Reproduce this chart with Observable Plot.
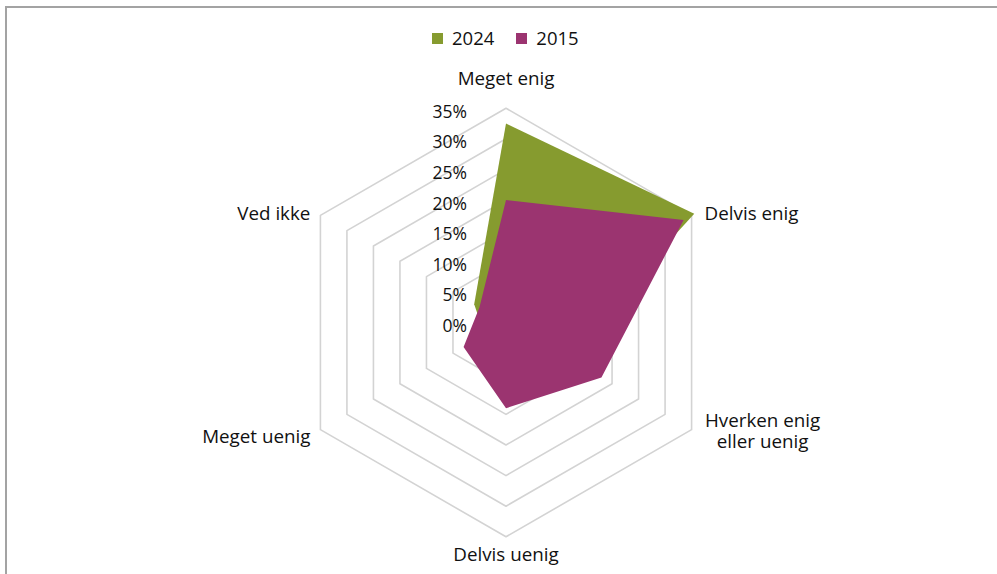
<!DOCTYPE html>
<html>
<head>
<meta charset="utf-8">
<script src="https://cdn.jsdelivr.net/npm/d3@7"></script>
<script src="https://cdn.jsdelivr.net/npm/@observablehq/plot@0.6"></script>
<style>
  html, body { margin: 0; padding: 0; background: #fff; }
  body { width: 997px; height: 574px; overflow: hidden; position: relative; font-family: "Open Sans", "Noto Sans", sans-serif; }
  #frame { position: absolute; left: 5px; top: 6px; width: 1100px; height: 700px; border-top: 2px solid #a3a3a3; border-left: 2px solid #a3a3a3; pointer-events: none; }
  #legend { position: relative; height: 55px; }
  #legend .items { position: absolute; left: 432px; top: 27px; display: flex; align-items: center; font-size: 18.5px; color: #111; line-height: 22px; }
  #legend .sw { width: 11px; height: 11px; display: inline-block; margin-right: 9px; }
  #legend .lab { margin-right: 22px; }
  #chart svg { display: block; }
</style>
</head>
<body>
<div id="frame"></div>
<div id="legend"></div>
<div id="chart"></div>
<script>
// ---- data ----
const categories = ["Meget enig", "Delvis enig", "Hverken enig\neller uenig", "Delvis uenig", "Meget uenig", "Ved ikke"];
const values2024 = [32.5, 35.5, 11, 9, 4, 6];
const values2015 = [20, 33.5, 18, 14, 8, 5];
const seriesNames = ["2024", "2015"];
const ticks = [0, 5, 10, 15, 20, 25, 30, 35];
const tickLabels = ["0%", "5%", "10%", "15%", "20%", "25%", "30%", "35%"];

// ---- layout ----
const W = 997, H = 519;
const cx = 505.5, cy = 267;     // pixel centre inside the svg
const R = 214.3;                // pixel radius of the 35% ring
const vMax = 35;
const k = R / vMax;             // pixels per percentage point
const colors = {"2024": "#869b2f", "2015": "#9b3470"};
const n = categories.length;
const ang = i => i * 2 * Math.PI / n;
const px = (v, i) => v * Math.sin(ang(i));
const py = (v, i) => v * Math.cos(ang(i));

// legend
const leg = document.querySelector("#legend");
const items = document.createElement("div");
items.className = "items";
seriesNames.forEach(s => {
  const sw = document.createElement("span"); sw.className = "sw"; sw.style.background = colors[s];
  const lab = document.createElement("span"); lab.className = "lab"; lab.textContent = s;
  items.appendChild(sw); items.appendChild(lab);
});
leg.appendChild(items);

// rings
const rings = [];
ticks.filter(t => t > 0).forEach(t => {
  for (let i = 0; i < n; i++) rings.push({t, x: px(t, i), y: py(t, i)});
});

const poly = vals => vals.map((v, i) => ({x: px(v, i), y: py(v, i)}));
const tickData = ticks.map((t, j) => ({t, label: tickLabels[j]}));

const labelOpts = [
  {dx: 0, dy: -30, textAnchor: "middle"},
  {dx: 13, dy: -2, textAnchor: "start"},
  {dx: 71, dy: 1, textAnchor: "middle"},
  {dx: 0, dy: 17, textAnchor: "middle"},
  {dx: -10, dy: 7, textAnchor: "end"},
  {dx: -10, dy: -2, textAnchor: "end"}
];
const catData = categories.map((c, i) => ({c, x: px(vMax, i), y: py(vMax, i), i}));

const chart = Plot.plot({
  width: W, height: H, margin: 0,
  style: {fontFamily: '"Open Sans", "Noto Sans", sans-serif', background: "#fff", overflow: "visible"},
  x: {type: "linear", domain: [-cx / k, (W - cx) / k], range: [0, W], axis: null},
  y: {type: "linear", domain: [-(H - cy) / k, cy / k], range: [H, 0], axis: null},
  marks: [
    Plot.line(rings, {x: "x", y: "y", z: "t", curve: "linear-closed", stroke: "#d3d3d3", strokeWidth: 1.6}),
    Plot.line(poly(values2024), {x: "x", y: "y", curve: "linear-closed", fill: colors["2024"], stroke: "none"}),
    Plot.line(poly(values2015), {x: "x", y: "y", curve: "linear-closed", fill: colors["2015"], stroke: "none"}),
    Plot.text(tickData, {x: () => 0, y: "t", text: "label", dx: -39, dy: 4, textAnchor: "end", fontSize: 17.5, fill: "#111"}),
    ...catData.map((d, i) => Plot.text([d], {x: "x", y: "y", text: "c", fontSize: 18.8, lineHeight: 1.12, fill: "#111", ...labelOpts[i]}))
  ]
});
document.querySelector("#chart").appendChild(chart);
</script>
</body>
</html>
